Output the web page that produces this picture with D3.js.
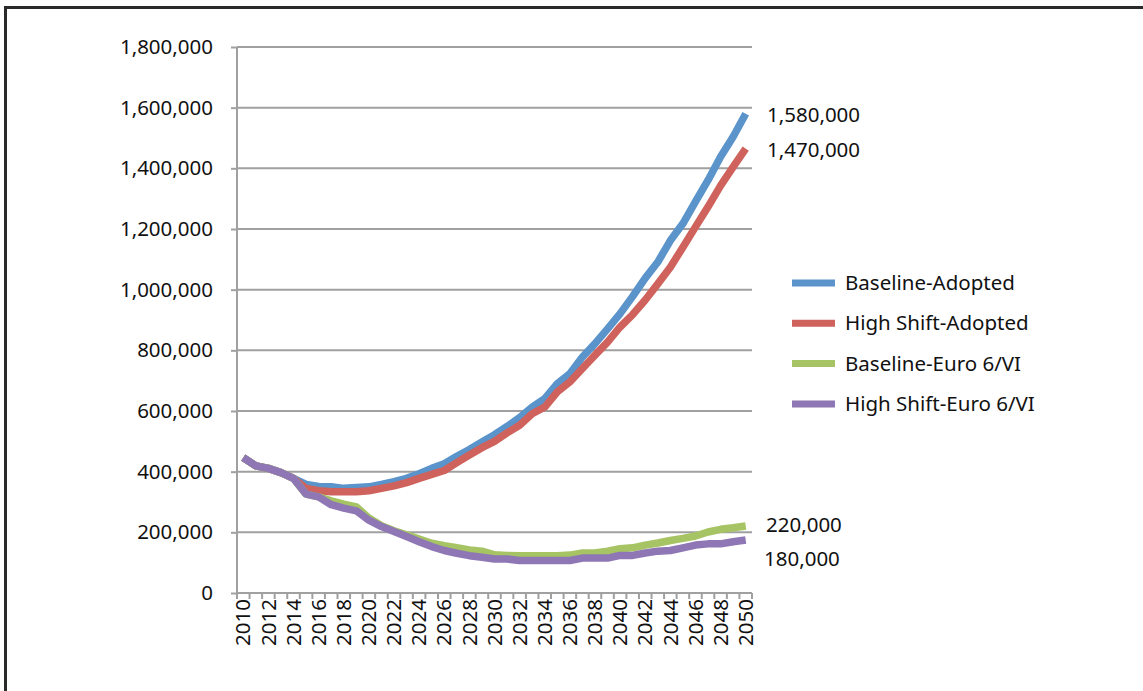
<!DOCTYPE html>
<html>
<head>
<meta charset="utf-8">
<script src="https://cdn.jsdelivr.net/npm/d3@7/dist/d3.min.js"></script>
<style>
  html, body { margin: 0; padding: 0; background: #fff; }
  svg { display: block; }
  text { font-family: "Noto Sans", sans-serif; fill: #111; }
</style>
</head>
<body>
<svg id="chart" width="1143" height="691"></svg>
<script>
const years = d3.range(2010, 2051);
const seriesNames = ["Baseline-Adopted", "High Shift-Adopted", "Baseline-Euro 6/VI", "High Shift-Euro 6/VI"];
const baselineAdopted = [446,419,411,397,378,358,351,350,345,348,
  350,358,367,378,393,411,426,451,473,498,
  522,549,578,613,641,690,723,778,822,871,
  921,978,1038,1091,1162,1218,1290,1361,1438,1504,1580].map(v => v * 1000);
const highShiftAdopted = [446,419,411,397,378,345,337,334,334,334,
  337,345,353,364,378,391,404,430,455,479,
  500,528,553,591,613,663,696,740,784,827,
  877,918,966,1019,1074,1140,1207,1273,1343,1405,1465].map(v => v * 1000);
const baselineEuro = [446,419,411,397,378,326,317,304,293,284,
  247,222,205,192,178,164,156,149,142,138,
  126,124,123,123,123,123,125,132,132,138,
  146,149,158,165,173,180,188,201,210,215,221].map(v => v * 1000);
const highShiftEuro = [446,419,411,397,378,326,317,291,280,271,
  240,219,203,186,169,153,140,131,123,118,
  112,112,107,107,107,107,107,115,115,115,
  124,124,132,138,140,149,158,162,162,169,175].map(v => v * 1000);
const yTicks = [0, 200000, 400000, 600000, 800000, 1000000, 1200000, 1400000, 1600000, 1800000];
const xTickLabels = years.filter(y => y % 2 === 0);
const endLabels = ["1,580,000", "1,470,000", "220,000", "180,000"];

const colors = ["#5b93cb", "#cf625c", "#a6c464", "#8e77b4"];
const allSeries = [baselineAdopted, highShiftAdopted, baselineEuro, highShiftEuro];

const svg = d3.select("#chart");
const pL = 237, pR = 752, pT = 47, pB = 593;
const fs = 20.5;

const x = d3.scaleBand().domain(years).range([pL, pR]).padding(0);
const y = d3.scaleLinear().domain([0, 1800000]).range([pB, pT]);

// frame (top and left)
svg.append("line").attr("x1", 5).attr("x2", 1143).attr("y1", 7.5).attr("y2", 7.5)
  .attr("stroke", "#2a2a2a").attr("stroke-width", 3);
svg.append("line").attr("x1", 5.5).attr("x2", 5.5).attr("y1", 6).attr("y2", 691)
  .attr("stroke", "#2a2a2a").attr("stroke-width", 3);

const grid = "#a0a0a0";
// gridlines
svg.append("g").selectAll("line").data(yTicks.filter(d => d > 0)).join("line")
  .attr("x1", pL).attr("x2", pR)
  .attr("y1", d => y(d)).attr("y2", d => y(d))
  .attr("stroke", grid).attr("stroke-width", 2);

// y axis
const yAxis = svg.append("g").attr("transform", `translate(${pL},0)`)
  .call(d3.axisLeft(y).tickValues(yTicks).tickFormat(d3.format(",")).tickSize(6).tickPadding(18));
yAxis.select(".domain").remove();
yAxis.selectAll(".tick line").attr("stroke", grid).attr("stroke-width", 2);
yAxis.selectAll(".tick text").attr("font-size", fs).attr("font-family", "Noto Sans").attr("fill", "#111");
svg.append("line").attr("x1", pL).attr("x2", pL).attr("y1", pT).attr("y2", pB + 1)
  .attr("stroke", grid).attr("stroke-width", 2);

// x axis
svg.append("line").attr("x1", pL).attr("x2", pR).attr("y1", pB).attr("y2", pB)
  .attr("stroke", grid).attr("stroke-width", 2);
const boundaries = years.map(d => x(d)).concat([x(years[years.length - 1]) + x.bandwidth()]);
svg.append("g").selectAll("line").data(boundaries).join("line")
  .attr("x1", d => d).attr("x2", d => d)
  .attr("y1", pB).attr("y2", pB + 6)
  .attr("stroke", grid).attr("stroke-width", 2);
svg.append("g").selectAll("text").data(xTickLabels).join("text")
  .attr("transform", d => `translate(${x(d) + x.bandwidth() / 2},${pB + 6}) rotate(-90)`)
  .attr("text-anchor", "end").attr("dy", "0.35em")
  .attr("font-size", fs)
  .text(d => d);

// lines
const line = d3.line().x((d, i) => x(years[i]) + x.bandwidth() / 2).y(d => y(d));
svg.append("g").selectAll("path").data(allSeries).join("path")
  .attr("d", d => line(d))
  .attr("fill", "none")
  .attr("stroke", (d, i) => colors[i])
  .attr("stroke-width", 7.5)
  .attr("stroke-linejoin", "round")
  .attr("stroke-linecap", "butt");

// end labels
const endLabelPos = [[767, 115], [767, 150], [766, 525], [764, 559]];
svg.append("g").selectAll("text").data(endLabels).join("text")
  .attr("x", (d, i) => endLabelPos[i][0]).attr("y", (d, i) => endLabelPos[i][1])
  .attr("dy", "0.35em").attr("font-size", fs)
  .text(d => d);

// legend
const lg = svg.append("g").selectAll("g").data(seriesNames).join("g")
  .attr("transform", (d, i) => `translate(792,${283 + i * 40.3})`);
lg.append("line").attr("x1", 0).attr("x2", 43).attr("y1", 0).attr("y2", 0)
  .attr("stroke", (d, i) => colors[i]).attr("stroke-width", 7);
lg.append("text").attr("x", 53).attr("dy", "0.35em").attr("font-size", fs)
  .text(d => d);
</script>
</body>
</html>
